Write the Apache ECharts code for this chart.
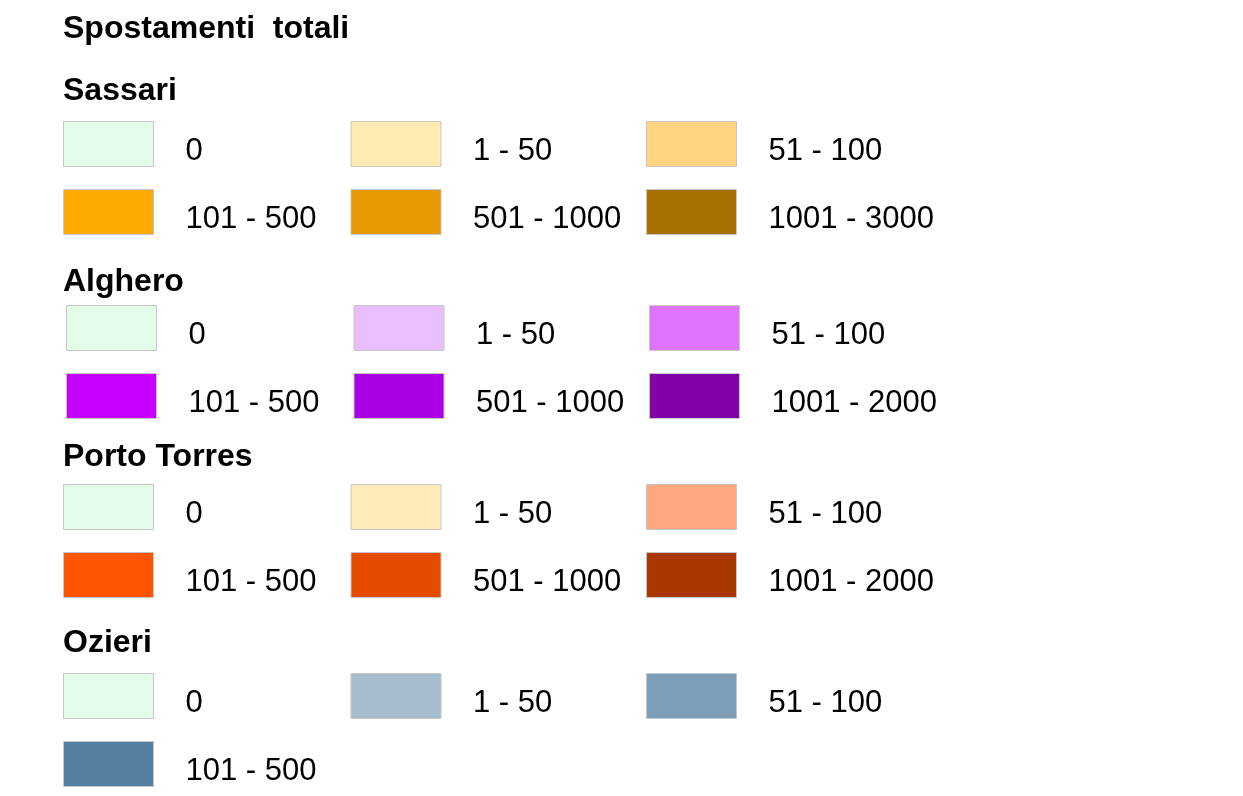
<!DOCTYPE html>
<html>
<head>
<meta charset="utf-8">
<script src="https://cdn.jsdelivr.net/npm/echarts@6/dist/echarts.min.js"></script>
<style>
html,body{margin:0;padding:0;background:#fff;}
#main{width:1243px;height:796px;}
</style>
</head>
<body>
<div id="main"></div>
<script>
const mainTitle = 'Spostamenti  totali';
const groupTitles = ['Sassari', 'Alghero', 'Porto Torres', 'Ozieri'];

const sassariClasses = ['0', '1 - 50', '51 - 100', '101 - 500', '501 - 1000', '1001 - 3000'];
const sassariColors = ['#E3FDE8', '#FFEBB3', '#FFD37F', '#FFAA00', '#E69900', '#A87000'];

const algheroClasses = ['0', '1 - 50', '51 - 100', '101 - 500', '501 - 1000', '1001 - 2000'];
const algheroColors = ['#E3FDE8', '#E8BEFF', '#DF73FF', '#C500FF', '#A900E6', '#8400A8'];

const portoTorresClasses = ['0', '1 - 50', '51 - 100', '101 - 500', '501 - 1000', '1001 - 2000'];
const portoTorresColors = ['#E3FDE8', '#FFEBB9', '#FFA77F', '#FF5500', '#E64C00', '#A83800'];

const ozieriClasses = ['0', '1 - 50', '51 - 100', '101 - 500'];
const ozieriColors = ['#E3FDE8', '#A6BDCD', '#7B9DB7', '#557FA0'];

const groupClasses = [sassariClasses, algheroClasses, portoTorresClasses, ozieriClasses];
const groupColors = [sassariColors, algheroColors, portoTorresColors, ozieriColors];

// layout
const FONT = '"Liberation Sans", Arial, sans-serif';
const titleTops = [75, 266, 441, 627];
const legendTops = [121, 305, 484, 673];
const legendLefts = [63, 66, 63, 63];
const colContentWidths = [143, 151, 180];

const series = [];
const legends = [];
const titles = [{
  text: mainTitle, left: 63, top: 13, padding: 0,
  textStyle: {fontFamily: FONT, fontSize: 32, fontWeight: 'bold', color: '#000'}
}];

groupTitles.forEach(function (g, gi) {
  titles.push({
    text: g, left: 63, top: titleTops[gi], padding: 0,
    textStyle: {fontFamily: FONT, fontSize: 32, fontWeight: 'bold', color: '#000'}
  });
  const items = [];
  groupClasses[gi].forEach(function (c, ci) {
    const name = g + ': ' + c;
    series.push({
      type: 'bar', name: name, data: [],
      itemStyle: {color: groupColors[gi][ci]}
    });
    items.push({
      name: name,
      textStyle: {width: colContentWidths[ci % 3]}
    });
  });
  legends.push({
    data: items,
    left: legendLefts[gi],
    top: legendTops[gi],
    width: 890,
    padding: 0,
    orient: 'horizontal',
    icon: 'rect',
    itemWidth: 90,
    itemHeight: 45,
    itemGap: 22,
    selectedMode: false,
    itemStyle: {borderColor: '#c6c6c6', borderWidth: 1},
    formatter: function (n) { return '\n' + n.split(': ')[1]; },
    textStyle: {
      fontFamily: FONT, fontSize: 31, color: '#000',
      lineHeight: 14, padding: [0, 0, 0, 27]
    }
  });
});

const chart = echarts.init(document.getElementById('main'), null, {renderer: 'canvas'});
chart.setOption({
  backgroundColor: '#fff',
  animation: false,
  title: titles,
  legend: legends,
  grid: {left: 0, top: 0, width: 1, height: 1, show: false},
  xAxis: {type: 'category', show: false, data: []},
  yAxis: {type: 'value', show: false},
  series: series
});
</script>
</body>
</html>
